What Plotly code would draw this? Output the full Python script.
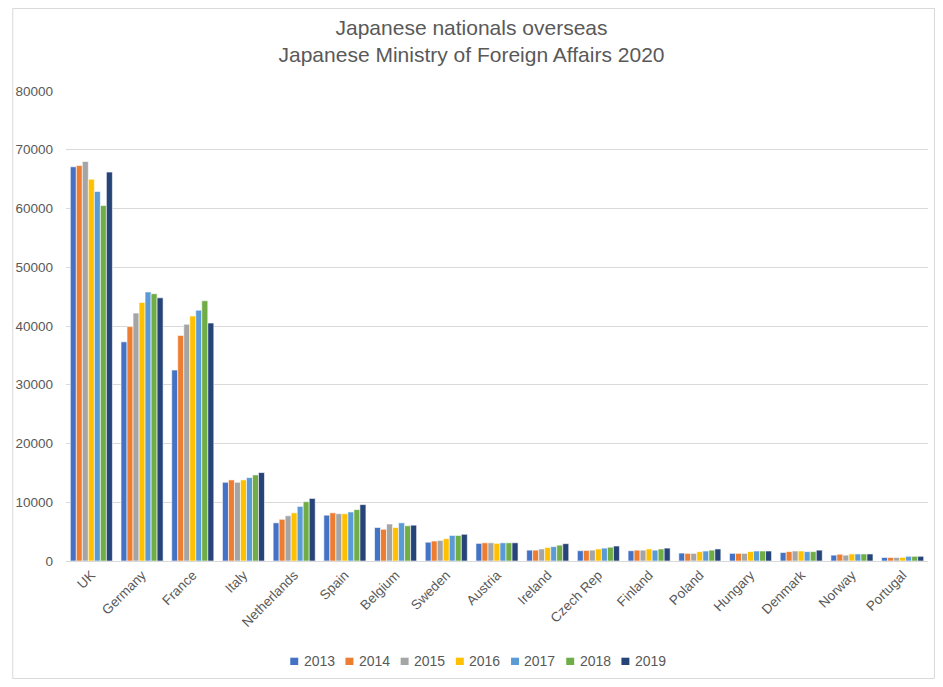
import plotly.graph_objects as go

# Countries on the x axis
countries = ["UK", "Germany", "France", "Italy", "Netherlands", "Spain", "Belgium",
             "Sweden", "Austria", "Ireland", "Czech Rep", "Finland", "Poland",
             "Hungary", "Denmark", "Norway", "Portugal"]

years = ["2013", "2014", "2015", "2016", "2017", "2018", "2019"]

# Values per year (same order as countries)
y2013 = [67100, 37300, 32500, 13400, 6500, 7800, 5700, 3200, 3000, 1850, 1750, 1750, 1350, 1300, 1450, 1000, 600]
y2014 = [67300, 39900, 38400, 13800, 7100, 8200, 5400, 3400, 3100, 1850, 1800, 1850, 1300, 1300, 1600, 1150, 600]
y2015 = [68000, 42200, 40300, 13400, 7700, 8050, 6300, 3500, 3100, 2050, 1850, 1850, 1300, 1300, 1700, 1000, 600]
y2016 = [65000, 44000, 41700, 13800, 8200, 8050, 5700, 3800, 3000, 2300, 2050, 2050, 1600, 1600, 1700, 1200, 620]
y2017 = [62900, 45800, 42700, 14200, 9300, 8350, 6500, 4350, 3100, 2450, 2200, 1850, 1700, 1700, 1600, 1200, 800]
y2018 = [60500, 45500, 44300, 14650, 10100, 8750, 6000, 4350, 3100, 2700, 2350, 2050, 1850, 1700, 1600, 1200, 800]
y2019 = [66200, 44800, 40500, 15050, 10650, 9600, 6100, 4550, 3100, 2950, 2550, 2200, 2050, 1700, 1850, 1200, 800]

series = [y2013, y2014, y2015, y2016, y2017, y2018, y2019]
colors = ["#4472C4", "#ED7D31", "#A5A5A5", "#FFC000", "#5B9BD5", "#70AD47", "#264478"]

# figure geometry (page has an 8px body margin around the figure)
W, H = 927, 671
L, R, T, B = 54, 7, 83, 118
PW, PH = W - L - R, H - T - B


def px(x):
    return (x - L) / PW


def py(y):
    return (H - B - y) / PH


fig = go.Figure()
for yr, vals, col in zip(years, series, colors):
    fig.add_trace(go.Bar(name=yr, x=countries, y=vals, marker_color=col,
                         marker_line_color="white", marker_line_width=0.6))

txt = "#595959"
fig.update_layout(
    width=W, height=H,
    paper_bgcolor="white", plot_bgcolor="white",
    font=dict(family="Liberation Sans, Arial, sans-serif", color=txt, size=13.5),
    title=dict(text="Japanese nationals overseas<br>Japanese Ministry of Foreign Affairs 2020",
               x=0.5, xanchor="center", xref="container",
               y=1 - 27 / H, yanchor="top", yref="container",
               font=dict(size=21, color=txt)),
    margin=dict(l=L, r=R, t=T, b=B),
    barmode="group", bargap=0.17, bargroupgap=0.0,
    showlegend=False,
)
fig.update_yaxes(range=[0, 80000], dtick=10000, showgrid=True, gridcolor="#D9D9D9",
                 gridwidth=1, zeroline=False, showline=False, tickformat="d",
                 ticks="", ticklabelstandoff=12)
fig.update_xaxes(tickangle=-45, showline=True, linecolor="#D9D9D9", linewidth=1,
                 ticks="", showgrid=False)

# legend drawn as a compact row like the Excel one
leg_x = 279.3
step = 55.45
for i, (yr, col) in enumerate(zip(years, colors)):
    sx = leg_x + i * step
    fig.add_shape(type="rect", xref="paper", yref="paper",
                  x0=px(sx), x1=px(sx + 8), y0=py(657), y1=py(649.7),
                  fillcolor=col, line_width=0)
    fig.add_annotation(text=yr, xref="paper", yref="paper", x=px(sx + 11.5), y=py(653.3),
                       xanchor="left", yanchor="middle", showarrow=False,
                       font=dict(size=14, color=txt))

# outer chart border
fig.add_shape(type="rect", xref="paper", yref="paper",
              x0=px(0.5), x1=px(W - 0.5), y0=py(H - 0.5), y1=py(0.5),
              line=dict(color="#D9D9D9", width=1))

fig.write_html("out.html")
